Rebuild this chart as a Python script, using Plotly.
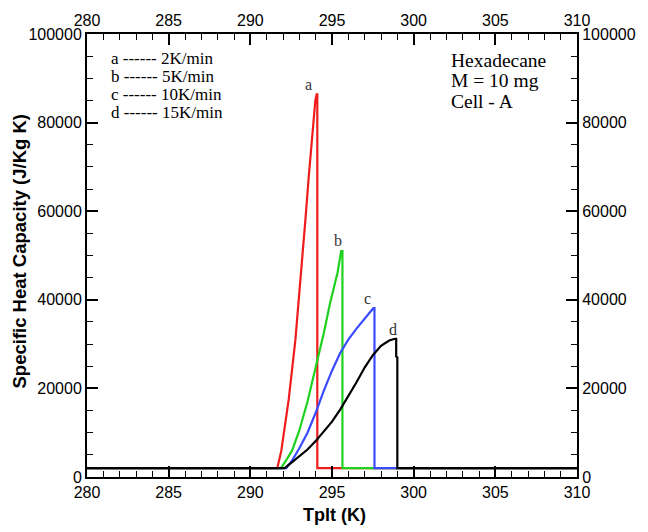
import plotly.graph_objects as go

# ---- data (T in K, Cp in J/kg K) ----
T_a = [280, 291.65, 291.9, 292.35, 292.76, 293.17, 293.37, 293.57, 293.77, 293.98, 294.06, 294.1, 294.1, 310]
Cp_a = [2000, 2000, 6000, 17500, 31000, 48000, 58000, 67500, 76500, 85000, 86400, 86400, 2000, 2000]

T_b = [280, 291.87, 292.2, 292.56, 293.0, 293.51, 294.0, 294.5, 294.89, 295.34, 295.56, 295.64, 295.64, 310]
Cp_b = [2000, 2000, 3800, 6000, 10500, 17150, 24800, 32500, 39400, 46100, 51000, 51000, 2000, 2000]

T_c = [280, 292.2, 292.6, 293.0, 293.5, 294.0, 294.5, 295.0, 295.5, 296.0, 296.5, 297.0, 297.53, 297.6, 297.6, 297.6, 310]
Cp_c = [2000, 2000, 4000, 6500, 10000, 14500, 19500, 24000, 28000, 31000, 33500, 35700, 38100, 38100, 34500, 2000, 2000]

T_d = [280, 292.1, 292.5, 293.0, 293.5, 294.0, 294.5, 295.0, 295.5, 296.0, 296.5, 297.0, 297.5, 298.0, 298.5, 298.85, 298.93, 298.93, 299.0, 299.0, 310]
Cp_d = [2000, 2000, 3200, 4600, 6200, 8100, 10200, 12500, 15200, 18200, 21400, 24700, 27500, 29600, 30800, 31200, 31200, 27200, 27000, 2000, 2000]

series = [
    ("a", T_a, Cp_a, "#ee1c1c"),
    ("b", T_b, Cp_b, "#1fd21f"),
    ("c", T_c, Cp_c, "#3a4bff"),
    ("d", T_d, Cp_d, "#000000"),
]

curve_labels = ["a", "b", "c", "d"]
label_pos = [(293.55, 88500), (295.35, 53500), (297.2, 40200), (298.75, 33400)]

legend_lines = ["a ------ 2K/min", "b ------ 5K/min", "c ------ 10K/min", "d ------ 15K/min"]
info_lines = ["Hexadecane", "M = 10 mg", "Cell - A"]

x_ticks = [280, 285, 290, 295, 300, 305, 310]
y_ticks = [0, 20000, 40000, 60000, 80000, 100000]

fig = go.Figure()
for name, T, Cp, col in series:
    fig.add_trace(go.Scatter(x=T, y=Cp, mode="lines", name=name,
                             line=dict(color=col, width=2.2), showlegend=False))
# dummy trace to activate top/right axes
fig.add_trace(go.Scatter(x=[None], y=[None], xaxis="x2", yaxis="y2",
                         showlegend=False, hoverinfo="skip"))

tickfont = dict(family="Liberation Sans, Arial", size=16, color="black")
common = dict(showline=True, linewidth=2, linecolor="black", ticks="inside",
              ticklen=11, tickwidth=2, tickcolor="black", showgrid=False,
              zeroline=False, tickfont=tickfont,
              minor=dict(ticks="inside", ticklen=6, tickwidth=1.3, tickcolor="black"))

fig.update_layout(
    width=648, height=532,
    margin=dict(l=87, r=68, t=28, b=55),
    paper_bgcolor="white", plot_bgcolor="white",
    xaxis=dict(range=[280, 310], tickvals=x_ticks, minor_dtick=1, **common),
    xaxis2=dict(range=[280, 310], tickvals=x_ticks, overlaying="x", side="top",
                anchor="y", minor_dtick=1, **common),
    yaxis=dict(range=[0, 100000], tickvals=y_ticks, tickformat="d",
               minor_dtick=5000, **common),
    yaxis2=dict(range=[0, 100000], tickvals=y_ticks, tickformat="d", overlaying="y",
                side="right", anchor="x", minor_dtick=5000, **common),
)

annots = []
serif = "Liberation Serif, Times New Roman"
for lab, (tx, ty) in zip(curve_labels, label_pos):
    annots.append(dict(x=tx, y=ty, xref="x", yref="y", text=lab, showarrow=False,
                       font=dict(family=serif, size=16, color="#333333")))

def px(x):
    return (x - 87) / 493.0

def py(y):
    return (477 - y) / 449.0

for i, t in enumerate(legend_lines):
    annots.append(dict(x=px(109), y=py(53 + 18.3 * i), xref="paper", yref="paper",
                       text=t, showarrow=False, xanchor="left", yanchor="middle",
                       font=dict(family=serif, size=17, color="black")))
for i, t in enumerate(info_lines):
    annots.append(dict(x=px(451), y=py(55 + 20.5 * i), xref="paper", yref="paper",
                       text=t, showarrow=False, xanchor="left", yanchor="middle",
                       font=dict(family=serif, size=19.5, color="black")))

annots.append(dict(x=px(336), y=py(516), xref="paper", yref="paper", text="<b>Tplt (K)</b>",
                   showarrow=False, xanchor="center", yanchor="middle",
                   font=dict(family="Liberation Sans, Arial", size=18, color="black")))
annots.append(dict(x=px(19), y=py(248), xref="paper", yref="paper",
                   text="<b>Specific Heat Capacity (J/Kg K)</b>", textangle=-90,
                   showarrow=False, xanchor="center", yanchor="middle",
                   font=dict(family="Liberation Sans, Arial", size=18.5, color="black")))
fig.update_layout(annotations=annots)

fig.write_html("out.html")
